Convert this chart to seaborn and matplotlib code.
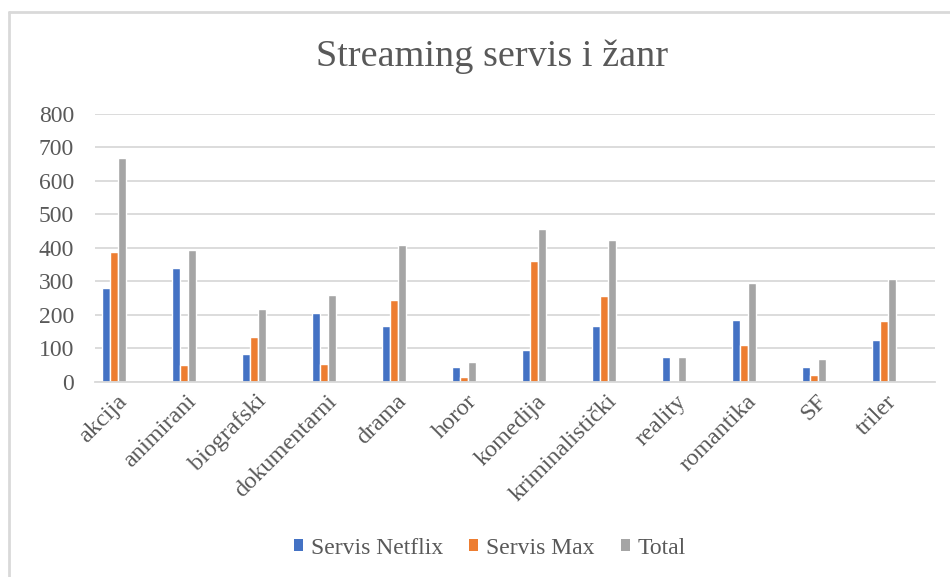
import pandas as pd
import matplotlib
matplotlib.use("Agg")
import matplotlib.pyplot as plt
import matplotlib.transforms as mtransforms
import seaborn as sns
from matplotlib.lines import Line2D
from matplotlib.patches import Patch

sns.set_style("white")
plt.rcParams["font.family"] = ["Liberation Serif", "DejaVu Serif"]

genres = ["akcija", "animirani", "biografski", "dokumentarni", "drama", "horor",
          "komedija", "kriminalistički", "reality", "romantika", "SF", "triler"]
netflix = [280, 341, 84, 206, 166, 44, 96, 166, 74, 185, 46, 126]
hbo_max = [387, 50, 134, 54, 244, 16, 362, 257, 0, 110, 22, 181]
total = [668, 393, 219, 261, 410, 60, 457, 423, 74, 295, 68, 306]
series = ["Servis Netflix", "Servis Max", "Total"]
colors = ["#4472C4", "#ED7D31", "#A5A5A5"]
text_col = "#595959"
grid_col = "#D9D9D9"

df = pd.DataFrame({"genre": genres * 3,
                   "count": netflix + hbo_max + total,
                   "serija": [s for s in series for _ in genres]})

# excel pivot keeps empty slots for extra series, so reserve them in the dodge
slots = series + ["_a", "_b", "_c", "_d"]
pal = dict(zip(slots, colors + ["white"] * 4))

fig = plt.figure(figsize=(9.5, 5.77), dpi=100)
ax = fig.add_axes([0.1, 0.338, 0.884, 0.4645])

sns.barplot(data=df, x="genre", y="count", hue="serija", hue_order=slots,
            palette=pal, width=0.8, gap=0.05, saturation=1, ax=ax, legend=False)

ax.set_ylim(0, 800)
ax.set_yticks(range(0, 801, 100))
ax.set_xlabel("")
ax.set_ylabel("")
ax.grid(axis="y", color=grid_col, linewidth=1.3)
ax.set_axisbelow(True)
for s in ["top", "right", "left"]:
    ax.spines[s].set_visible(False)
ax.spines["bottom"].set_color(grid_col)
ax.spines["bottom"].set_linewidth(1.3)
ax.tick_params(axis="both", length=0, labelsize=17, labelcolor=text_col)
ax.tick_params(axis="y", pad=15)
ax.set_xticks(range(len(genres)))
ax.set_xticklabels(genres, rotation=45, ha="right", va="top",
                   rotation_mode="anchor", fontsize=17.5)
shift = mtransforms.ScaledTranslation(-14 / 100, -4 / 100, fig.dpi_scale_trans)
for lab in ax.get_xticklabels():
    lab.set_transform(lab.get_transform() + shift)

fig.text(0.518, 0.901, "Streaming servis i žanr", ha="center", va="center",
         fontsize=27.5, color=text_col)

handles = [Patch(facecolor=c, edgecolor="none") for c in colors]
fig.legend(handles, series, loc="center", bbox_to_anchor=(0.516, 0.05),
           ncol=3, frameon=False, fontsize=17, labelcolor=text_col,
           handlelength=0.38, handleheight=0.38, handletextpad=0.34,
           columnspacing=1.1)

# chart area frame (left and top edges visible)
fig.add_artist(Line2D([0.0095, 0.0095], [0, 0.979], color=grid_col,
                      linewidth=2, transform=fig.transFigure))
fig.add_artist(Line2D([0.0095, 1], [0.979, 0.979], color=grid_col,
                      linewidth=2, transform=fig.transFigure))

fig.savefig("out.png", dpi=100)
